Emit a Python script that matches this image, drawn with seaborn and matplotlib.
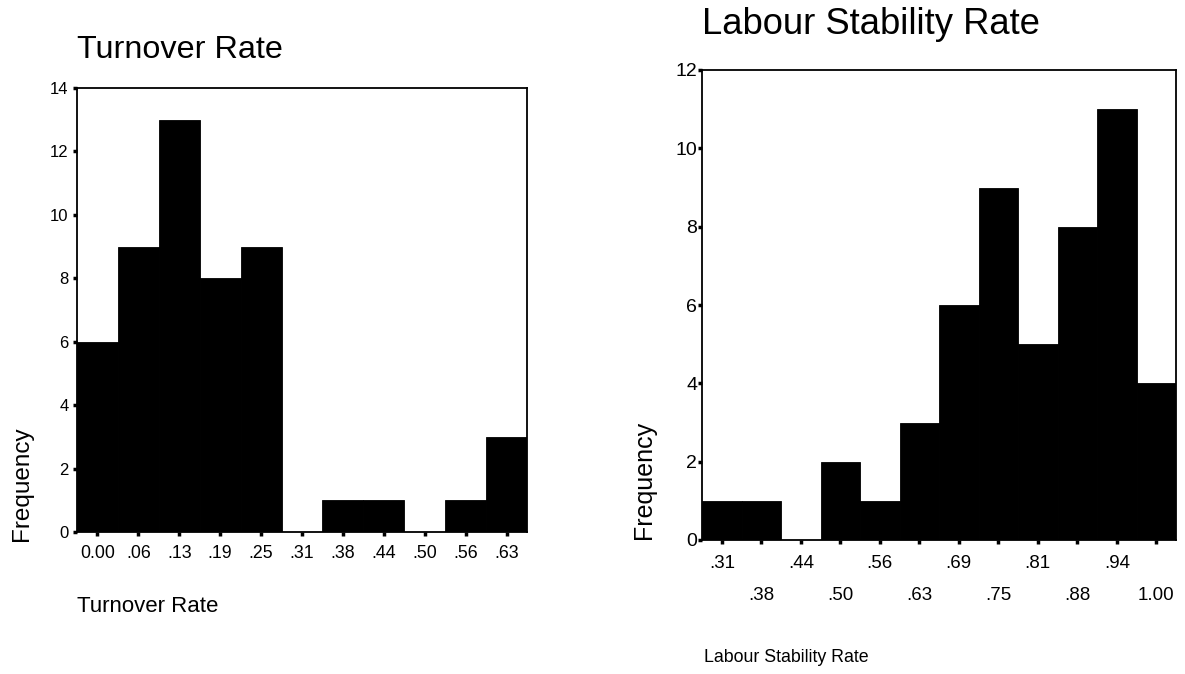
import numpy as np
import pandas as pd
import matplotlib
matplotlib.use("Agg")
import matplotlib.pyplot as plt
import seaborn as sns

# bin centres and counts
turnover_centres = [0.0, 0.0625, 0.125, 0.1875, 0.25, 0.3125, 0.375, 0.4375, 0.5, 0.5625, 0.625]
turnover_counts = [6, 9, 13, 8, 9, 0, 1, 1, 0, 1, 3]
turnover_labels = ["0.00", ".06", ".13", ".19", ".25", ".31", ".38", ".44", ".50", ".56", ".63"]

stability_centres = [0.3125, 0.375, 0.4375, 0.5, 0.5625, 0.625, 0.6875, 0.75, 0.8125, 0.875, 0.9375, 1.0]
stability_counts = [1, 1, 0, 2, 1, 3, 6, 9, 5, 8, 11, 4]
stability_labels = [".31", ".38", ".44", ".50", ".56", ".63", ".69", ".75", ".81", ".88", ".94", "1.00"]

sns.set_style("white")
plt.rcParams["font.family"] = ["Liberation Sans", "DejaVu Sans"]
plt.rcParams["text.color"] = "black"
plt.rcParams["axes.labelcolor"] = "black"
plt.rcParams["xtick.color"] = "black"
plt.rcParams["ytick.color"] = "black"

W, H = 1185, 674
fig = plt.figure(figsize=(W / 100, H / 100), dpi=100)
# axes boxes in pixels: left, right, top, bottom
box1 = (77, 527, 88, 532)
box2 = (702, 1176, 70, 540)
ax1 = fig.add_axes([box1[0] / W, 1 - box1[3] / H, (box1[1] - box1[0]) / W, (box1[3] - box1[2]) / H])
ax2 = fig.add_axes([box2[0] / W, 1 - box2[3] / H, (box2[1] - box2[0]) / W, (box2[3] - box2[2]) / H])


def edges_for(centres, width=0.0625):
    c = np.asarray(centres)
    return list(np.append(c - width / 2, c[-1] + width / 2))


def draw(ax, box, centres, counts, labels, ymax, title, xlabel, stagger,
         title_size, label_size, ylabel_size, xtick_size, ytick_size, ypad,
         title_y, xlabel_pos, ylabel_pos, xpad):
    edges = edges_for(centres)
    df = pd.DataFrame({"value": centres, "count": counts})
    sns.histplot(data=df, x="value", weights="count", bins=edges, ax=ax,
                 color="black", alpha=1, edgecolor="black", linewidth=0.6)
    ax.set_xlim(edges[0], edges[-1])
    ax.set_ylim(0, ymax)
    ax.set_yticks(range(0, ymax + 1, 2))
    ax.set_xticks(centres)
    if stagger:
        labels = [l if i % 2 == 0 else "\n" + l for i, l in enumerate(labels)]
    ax.set_xticklabels(labels, fontsize=xtick_size, linespacing=2.1)
    ax.tick_params(axis="y", labelsize=ytick_size, pad=ypad)
    ax.tick_params(axis="x", pad=xpad)
    ax.tick_params(direction="out", length=3, width=2.5, color="black",
                   left=True, bottom=True)
    for s in ax.spines.values():
        s.set_color("black")
        s.set_linewidth(1.3)
    ax.set_ylabel("Frequency", fontsize=ylabel_size, va="center", ha="center")
    ax.set_xlabel(xlabel, fontsize=label_size, ha="left", va="center")
    ax.set_title(title, loc="left", fontsize=title_size, pad=0, y=title_y, va="center")

    l, r, t, b = box
    ax.yaxis.set_label_coords((ylabel_pos[0] - l) / (r - l), (b - ylabel_pos[1]) / (b - t))
    ax.xaxis.set_label_coords((xlabel_pos[0] - l) / (r - l), (b - xlabel_pos[1]) / (b - t))


draw(ax1, box1, turnover_centres, turnover_counts, turnover_labels, 14,
     "Turnover Rate", "Turnover Rate", False,
     title_size=23.3, label_size=16, ylabel_size=17.5, xtick_size=12.8, ytick_size=12, ypad=3,
     title_y=(532 - 50) / 444, xlabel_pos=(77, 607), ylabel_pos=(22, 484), xpad=6)
draw(ax2, box2, stability_centres, stability_counts, stability_labels, 12,
     "Labour Stability Rate", "Labour Stability Rate", True,
     title_size=26.2, label_size=12.8, ylabel_size=18, xtick_size=13.5, ytick_size=14, ypad=0.5,
     title_y=(540 - 25) / 470, xlabel_pos=(704, 658), ylabel_pos=(644, 480), xpad=8)

fig.savefig("out.png", dpi=100, facecolor="white")
